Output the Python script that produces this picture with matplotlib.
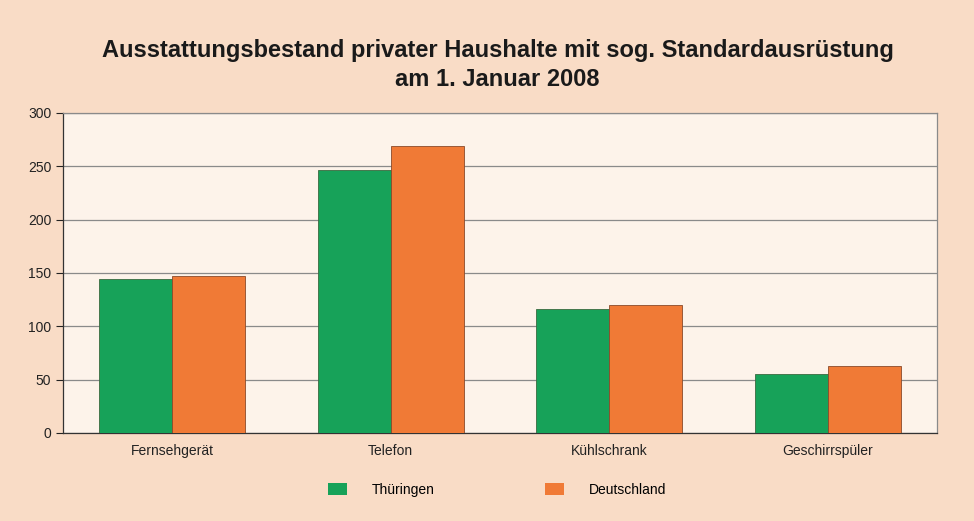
import matplotlib.pyplot as plt
import numpy as np
from matplotlib.patches import Patch

plt.rcParams["font.family"] = ["Liberation Sans", "DejaVu Sans"]

categories = ["Fernsehgerät", "Telefon", "Kühlschrank", "Geschirrspüler"]
thueringen = [144, 247, 116, 55]
deutschland = [147, 269, 120, 63]
series_names = ["Thüringen", "Deutschland"]
yticks = [0, 50, 100, 150, 200, 250, 300]

green = "#17a259"
orange = "#f07a36"
bg = "#f9dcc6"
plot_bg = "#fdf3ea"

fig = plt.figure(figsize=(9.74, 5.21), dpi=100, facecolor=bg)
ax = fig.add_axes([63 / 974, 1 - 433 / 521, 874 / 974, 320 / 521])
ax.set_facecolor(plot_bg)

x = np.arange(len(categories))
w = 0.335
ax.bar(x - w / 2, thueringen, w, color=green, edgecolor="#3a6a40", linewidth=0.6, zorder=3)
ax.bar(x + w / 2, deutschland, w, color=orange, edgecolor="#8a4a2a", linewidth=0.6, zorder=3)

ax.set_xlim(-0.5, len(categories) - 0.5)
ax.set_ylim(0, 300)
ax.set_yticks(yticks)
ax.set_xticks(x)
ax.set_xticklabels(categories, fontsize=10, color="#222222")
ax.tick_params(axis="y", labelsize=10, colors="#222222", direction="out", length=5, width=0.8)
ax.tick_params(axis="x", length=0, pad=8)
ax.yaxis.grid(True, color="#8a8a8a", linewidth=0.9, zorder=0)
for s in ax.spines.values():
    s.set_color("#333333")
    s.set_linewidth(0.9)
ax.spines["top"].set_color("#8a8a8a")
ax.spines["right"].set_color("#8a8a8a")

fig.text(0.511, 1 - 50 / 521, "Ausstattungsbestand privater Haushalte mit sog. Standardausrüstung",
         ha="center", va="center", fontsize=17, fontweight="bold", color="#1a1a1a")
fig.text(0.511, 1 - 80 / 521, "am 1. Januar 2008",
         ha="center", va="center", fontsize=17, fontweight="bold", color="#1a1a1a")

handles = [Patch(facecolor=green, edgecolor="none"), Patch(facecolor=orange, edgecolor="none")]
fig.legend(handles, series_names, loc="center", bbox_to_anchor=(0.510, 1 - 490 / 521),
           ncol=2, frameon=False, fontsize=10, columnspacing=7.95, handlelength=1.4,
           handleheight=1.0, handletextpad=1.75)

fig.savefig("out.png", dpi=100, facecolor=bg)
